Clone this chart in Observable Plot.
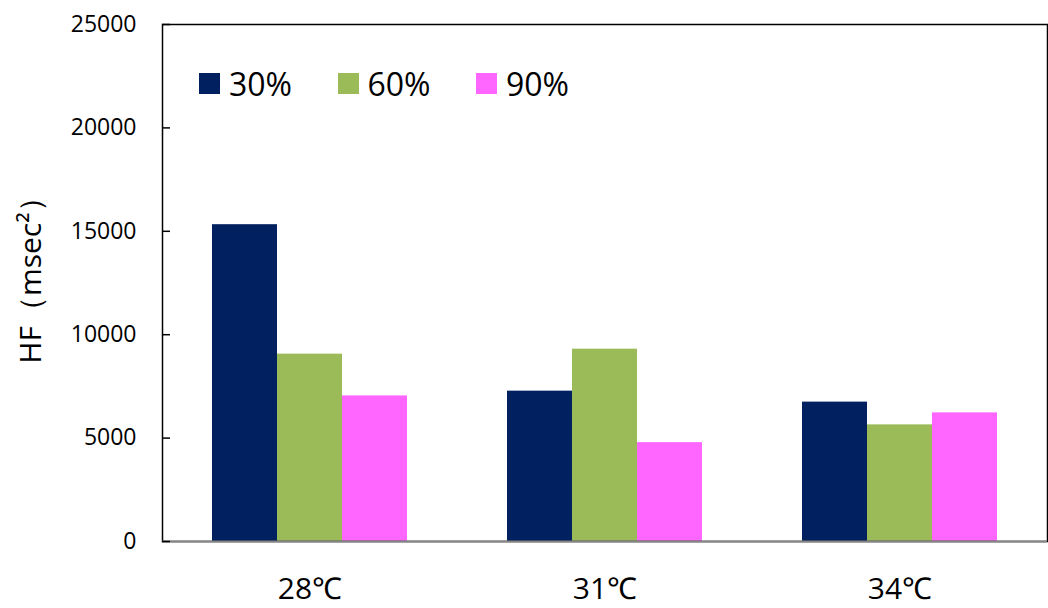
<!DOCTYPE html>
<html>
<head>
<meta charset="utf-8">
<script src="https://cdn.jsdelivr.net/npm/d3@7"></script>
<script src="https://cdn.jsdelivr.net/npm/@observablehq/plot@0.6"></script>
<style>
  html, body { margin: 0; padding: 0; background: white; }
  #chart { position: relative; width: 1048px; height: 608px; font-family: "Open Sans", sans-serif; }
  #legend { position: absolute; left: 199px; top: 72px; display: flex; align-items: center; }
  #legend .item { display: flex; align-items: center; width: 138.5px; }
  #legend .sw { width: 21px; height: 21px; margin-right: 9px; }
  #legend .lab { font-size: 32px; line-height: 23px; color: #000; }
</style>
</head>
<body>
<div id="chart"><div id="legend"></div></div>
<script>
// Temperatures on the x axis, humidity levels as the grouped series
const temperatures = ["28℃", "31℃", "34℃"];
const humidity = ["30%", "60%", "90%"];
const hf30 = [15320, 7270, 6740];
const hf60 = [9060, 9300, 5640];
const hf90 = [7040, 4780, 6220];
const yTicks = [0, 5000, 10000, 15000, 20000, 25000];
const yLabel = "HF（msec²）";
const colors = ["#002060", "#9BBB59", "#FF66FF"];

const series = [hf30, hf60, hf90];
const data = temperatures.flatMap((t, i) =>
  humidity.map((h, j) => ({temp: t, hum: h, value: series[j][i]}))
);

const plot = Plot.plot({
  width: 1048,
  height: 608,
  marginLeft: 161,
  marginRight: 1,
  marginTop: 24,
  marginBottom: 67,
  style: {fontFamily: "Open Sans, sans-serif", fontSize: "22px", color: "#000", background: "white"},
  fx: {domain: temperatures, padding: 0, label: null},
  x: {domain: humidity, paddingInner: 0, paddingOuter: 0.75, axis: null},
  y: {domain: [0, 25000], label: null},
  color: {domain: humidity, range: colors},
  marks: [
    Plot.barY(data, {fx: "temp", x: "hum", y: "value", fill: "hum"}),
    Plot.frame({facet: "super", stroke: "#000", strokeWidth: 1.5}),
    Plot.ruleY([0], {stroke: "#868686", strokeWidth: 2}),
    // tick labels outside, tick marks pointing into the plot
    Plot.axisY({ticks: yTicks, tickSize: 0, tickPadding: 26, tickFormat: d => String(d), fontSize: 23, label: null}),
    Plot.axisY({ticks: yTicks, tickSize: 8, dx: 8, tickFormat: () => "", label: null, strokeWidth: 1.5}),
    Plot.text([yLabel], {facet: "super", frameAnchor: "left", textAnchor: "middle", rotate: -90, dx: -131, dy: -10, fontSize: 30}),
    Plot.axisFx({anchor: "bottom", tickSize: 0, tickPadding: 36, fontSize: 30, label: null})
  ]
});
document.getElementById("chart").prepend(plot);

// Legend drawn inside the plot area
const legend = document.getElementById("legend");
humidity.forEach((h, i) => {
  const item = document.createElement("div");
  item.className = "item";
  item.innerHTML = `<div class="sw" style="background:${colors[i]}"></div><div class="lab">${h}</div>`;
  legend.appendChild(item);
});
</script>
</body>
</html>
